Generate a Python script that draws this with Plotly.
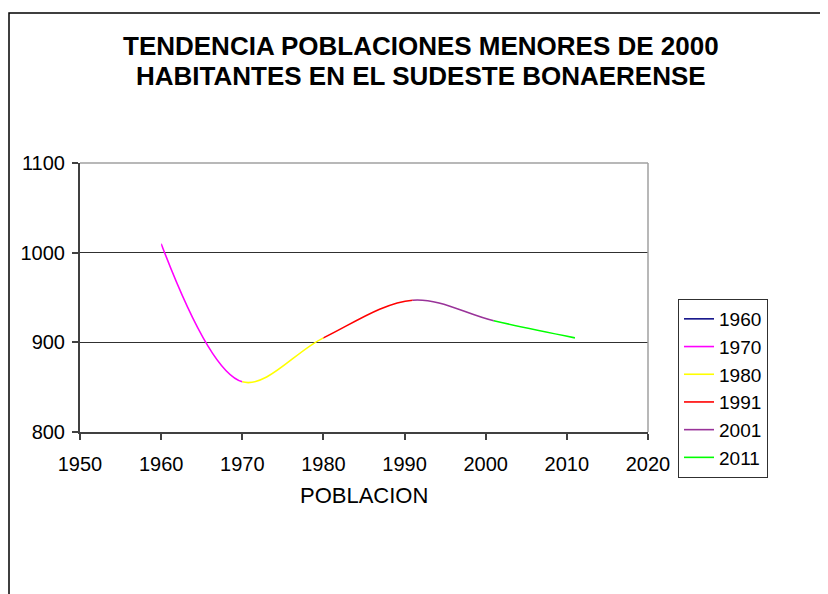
import plotly.graph_objects as go

FONT = "Liberation Sans, Arial, sans-serif"
AXIS = "#404040"
FRAME = "#a0a0a0"

# census years and population trend values
years = [1960, 1970, 1980, 1991, 2001, 2011]
values = [1010, 856, 905, 947, 924, 905]

# each legend entry colours the stretch ending at that year
series_names = ["1960", "1970", "1980", "1991", "2001", "2011"]
series_colors = ["#000080", "#ff00ff", "#ffff00", "#ff0000", "#993399", "#00ff00"]

x_ticks = [1950, 1960, 1970, 1980, 1990, 2000, 2010, 2020]
y_ticks = [800, 900, 1000, 1100]

title_lines = ["TENDENCIA POBLACIONES MENORES DE 2000",
               "HABITANTES EN EL SUDESTE BONAERENSE"]
x_title = "POBLACION"

# the page body adds an 8px margin, so the figure is drawn 8px smaller
OFF = 8
W, H = 828 - OFF, 594 - OFF
# plot area in page pixels
L, R, T, B = 80, 648, 163, 432
X0, X1 = 1950, 2020


def px_x(p):
    return (p - L) / (R - L)


def px_y(p):
    return (B - p) / (B - T)


fig = go.Figure()

# 1960 only has a single point, so it shows up in the legend only
fig.add_trace(go.Scatter(
    x=years[:1], y=values[:1], mode="lines", name=series_names[0],
    line=dict(color=series_colors[0], width=1.5), xaxis="x", yaxis="y",
))

# the whole smoothed curve is drawn once per stretch, on an invisible x axis
# whose domain only covers that stretch, so the plot clip keeps one colour each
layout_axes = {}
for i in range(1, len(years)):
    a0, a1 = years[i - 1], years[i]
    ax_name = "xaxis%d" % (i + 1)
    layout_axes[ax_name] = dict(
        domain=[(a0 - X0) / (X1 - X0), (a1 - X0) / (X1 - X0)],
        range=[a0, a1], visible=False, anchor="y", fixedrange=True,
    )
    fig.add_trace(go.Scatter(
        x=years, y=values, mode="lines", name=series_names[i],
        line=dict(color=series_colors[i], width=1.6, shape="spline",
                  smoothing=1, simplify=False),
        xaxis="x%d" % (i + 1), yaxis="y", hoverinfo="x+y",
    ))

fig.update_layout(**layout_axes)

fig.update_layout(
    width=W, height=H,
    margin=dict(l=L - OFF, r=W - (R - OFF), t=T - OFF, b=H - (B - OFF)),
    paper_bgcolor="white",
    plot_bgcolor="rgba(0,0,0,0)",
    font=dict(family=FONT, size=20, color="black"),
    xaxis=dict(
        range=[X0, X1], tickvals=x_ticks, showgrid=False, zeroline=False,
        showline=True, linecolor=AXIS, linewidth=2,
        ticks="outside", ticklen=6, tickwidth=1.5, tickcolor=AXIS,
        ticklabelstandoff=7, tickfont=dict(size=20),
    ),
    yaxis=dict(
        range=[800, 1100], tickvals=y_ticks, showgrid=True, gridcolor="#303030",
        gridwidth=1, zeroline=False,
        showline=True, linecolor=AXIS, linewidth=2,
        ticks="outside", ticklen=6, tickwidth=1.5, tickcolor=AXIS,
        ticklabelstandoff=3, tickfont=dict(size=20),
    ),
    showlegend=True,
    legend=dict(
        x=px_x(678), y=px_y(299), xanchor="left", yanchor="top",
        bgcolor="white", bordercolor="#303030", borderwidth=1,
        font=dict(size=19), itemwidth=30, tracegroupgap=0,
    ),
)

for k, line in enumerate(title_lines):
    fig.add_annotation(
        text="<b>%s</b>" % line, xref="paper", yref="paper",
        x=px_x(421), y=px_y(46 + 30 * k), xanchor="center", yanchor="middle",
        showarrow=False, font=dict(size=26, family=FONT, color="black"),
    )

fig.add_annotation(
    text=x_title, xref="paper", yref="paper", x=0.5, y=px_y(495),
    xanchor="center", yanchor="middle", showarrow=False,
    font=dict(size=22, family=FONT, color="black"),
)

# plot frame (top and right) and the outer chart border
fig.add_shape(type="line", xref="paper", yref="paper", x0=0, x1=1, y0=1, y1=1,
              line=dict(color=FRAME, width=1.5), layer="above")
fig.add_shape(type="line", xref="paper", yref="paper", x0=1, x1=1, y0=0, y1=1,
              line=dict(color=FRAME, width=1.5), layer="above")
fig.add_shape(type="rect", xref="paper", yref="paper",
              x0=px_x(9), x1=px_x(835), y0=px_y(13), y1=px_y(600),
              line=dict(color="black", width=1.5), layer="below")

fig.write_html("out.html")
